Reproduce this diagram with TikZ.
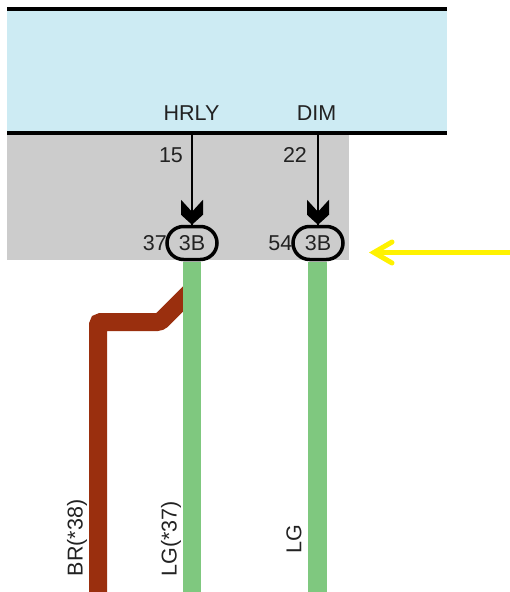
\documentclass[tikz,border=0pt]{standalone}
\usepackage{fontspec}
\setmainfont{Liberation Sans}
\usetikzlibrary{arrows}
\usetikzlibrary{shapes.misc}
\definecolor{panelblue}{HTML}{CDEBF3}
\definecolor{panelgray}{HTML}{CCCCCC}
\definecolor{wiregreen}{HTML}{7FC87F}
\definecolor{wirebrown}{HTML}{9A2F0E}
\definecolor{labelgray}{HTML}{222222}
\pgfarrowsdeclare{pintip}{pintip}{\pgfarrowsleftextend{-25pt}\pgfarrowsrightextend{0pt}}{
  \pgfsetlinewidth{0pt}
  \pgfpathmoveto{\pgfpoint{0pt}{0pt}}
  \pgfpathlineto{\pgfpoint{-10pt}{11pt}}
  \pgfpathlineto{\pgfpoint{-25pt}{11pt}}
  \pgfpathlineto{\pgfpoint{-13pt}{0pt}}
  \pgfpathlineto{\pgfpoint{-25pt}{-11pt}}
  \pgfpathlineto{\pgfpoint{-10pt}{-11pt}}
  \pgfpathclose
  \pgfusepathqfill
}
\begin{document}
\begin{tikzpicture}[x=1pt,y=-1pt]
    \tikzstyle{every node}=[font=\fontsize{21.5}{25}\selectfont,text=labelgray,inner sep=0pt]
    \tikzstyle{pinoval}=[draw=black,line width=3.5pt,rounded rectangle,minimum width=50pt,minimum height=33pt]
    \tikzstyle{signal}=[-pintip,line width=2.2pt,black]
    \tikzstyle{greenwire}=[wiregreen,line width=18.5pt]
    \tikzstyle{pointer}=[yellow,line width=5pt,line cap=round,line join=miter]
    \useasboundingbox (0,0) rectangle (510,592);
    \fill[panelblue] (7,10) rectangle (447,134);
    \fill[panelgray] (7,134) rectangle (349,260);
    \draw[line width=4.5pt] (7,9) -- (447,9);
    \draw[line width=4.5pt] (7,133) -- (447,133);
    %%
    \coordinate (brownend) at (98,592);
    \coordinate (brownjoin) at (192,290);
    \draw[wirebrown,line width=18pt,rounded corners=3pt] (brownend) -- (98,322) -- (160,322) -- (brownjoin);
    %%
    \node (hrly) at (191.5,113) {HRLY};
    \node (dim) at (316.5,113) {DIM};
    \coordinate (hrlytop) at (192,134);
    \coordinate (dimtop) at (318,134);
    \node (n15) at (171,155) {15};
    \node (n22) at (295,155) {22};
    \node[pinoval] (pinA) at (192,243) {3B};
    \node[pinoval] (pinB) at (318,243) {3B};
    \node[left=0pt] (n37) at (167,243) {37};
    \node[left=0pt] (n54) at (292.5,243) {54};
    \draw[signal] (hrlytop) -- (pinA);
    \draw[signal] (dimtop) -- (pinB);
    %%
    \coordinate (greenendA) at (192,592);
    \coordinate (greenendB) at (317.5,592);
    \draw[greenwire] (192,262) -- (greenendA);
    \draw[greenwire] (317.5,262) -- (greenendB);
    %%
    \node[rotate=90] (br38) at (77,538) {BR(*38)};
    \node[rotate=90] (lg37) at (171,539) {LG(*37)};
    \node[rotate=90] (lg) at (294,539) {LG};
    %%
    \coordinate (yellowstart) at (510,252.5);
    \coordinate (yellowtip) at (374,252.5);
    \draw[pointer,line cap=butt] (yellowstart) -- (yellowtip);
    \draw[pointer] (392,242) -- (yellowtip) -- (392,263);
\end{tikzpicture}
\end{document}
